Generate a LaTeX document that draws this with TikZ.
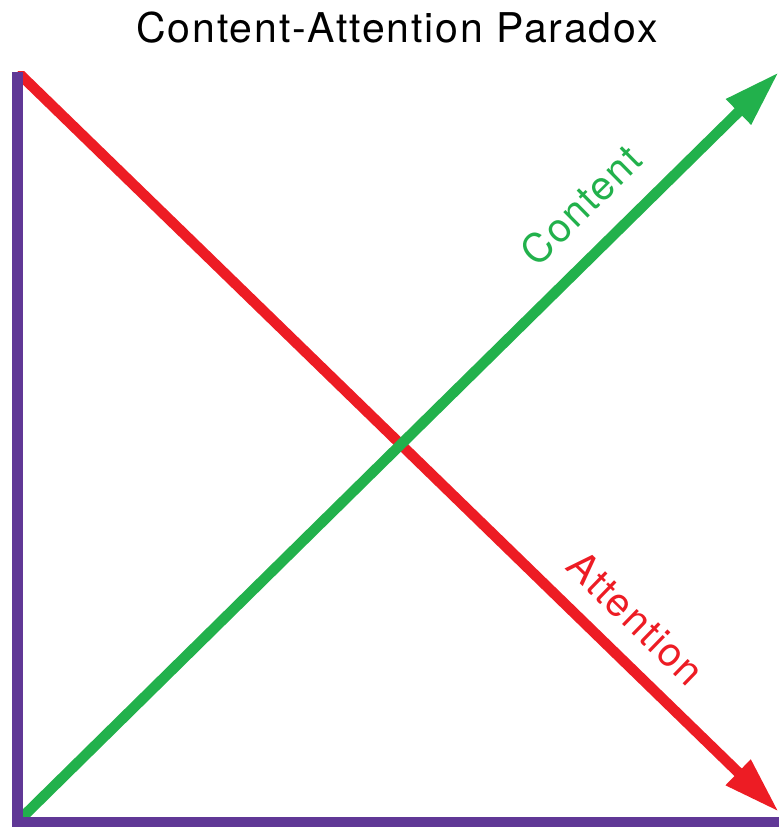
\documentclass[tikz,border=0pt]{standalone}
\usepackage{fontspec}
\setmainfont{TeX Gyre Heros}
\newfontfamily\titlefont[LetterSpace=4.5]{TeX Gyre Heros}
\usetikzlibrary{arrows.meta}
\definecolor{axispurple}{RGB}{96,56,150}
\definecolor{attred}{RGB}{237,28,36}
\definecolor{contgreen}{RGB}{34,177,76}
\tikzset{
	axisline/.style={line width=10.5pt,axispurple,line join=miter},
	trendline/.style={line width=10.5pt,-{Triangle[length=57pt,width=33pt]}},
	trendlabel/.style={font=\titlefont\fontsize{40}{48}\selectfont,inner sep=0pt}
}
\begin{document}
\begin{tikzpicture}[x=1pt,y=1pt]
		\useasboundingbox (0,0) rectangle (779,827);
		\coordinate (O) at (17.5,5);
		\coordinate (ytop) at (17.5,755);
		\coordinate (xend) at (779,5);
		\coordinate (ctip) at (779,755);
		\coordinate (atip) at (779,15);
		\node[font=\titlefont\fontsize{41}{49}\selectfont,inner sep=0pt] (title) at (397,799) {Content-Attention Paradox};
		\begin{scope}
			\clip (12,0) rectangle (779,755);
			\draw[trendline,attred] (ytop)--(atip);
			\draw[trendline,contgreen] (O)--(ctip);
		\end{scope}
		\draw[axisline] (ytop)--(O)--(xend);
		\node[trendlabel,contgreen,rotate=44.6] (content) at (581,622) {Content};
		\node[trendlabel,attred,rotate=-44.2] (attention) at (636,209) {Attention};
\end{tikzpicture}
\end{document}
